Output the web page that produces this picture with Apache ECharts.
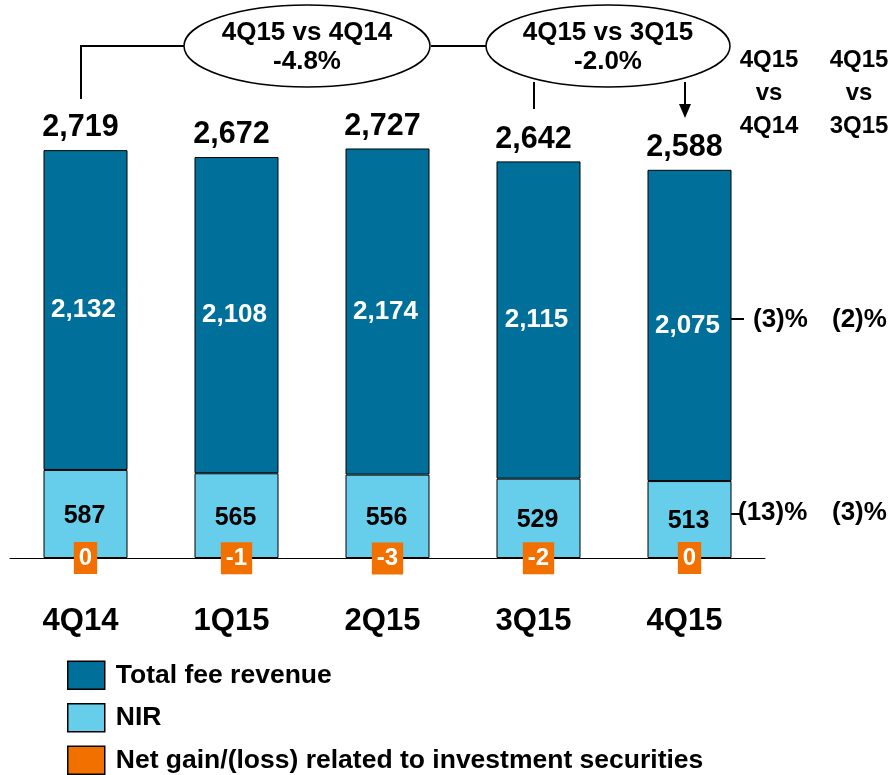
<!DOCTYPE html>
<html>
<head>
<meta charset="utf-8">
<script src="https://cdn.jsdelivr.net/npm/echarts@6/dist/echarts.min.js"></script>
<style>
  html, body { margin: 0; padding: 0; background: #fff; }
  #chart { width: 888px; height: 775px; }
</style>
</head>
<body>
<div id="chart"></div>
<script>
// quarters and values (in $M)
const quarters = ['4Q14', '1Q15', '2Q15', '3Q15', '4Q15'];
const nir = [587, 565, 556, 529, 513];
const feeRevenue = [2132, 2108, 2174, 2115, 2075];
const netGain = [0, -1, -3, -2, 0];
const totals = [2719, 2672, 2727, 2642, 2588];

// growth table on the right
const colHeads = ['4Q15\nvs\n4Q14', '4Q15\nvs\n3Q15'];
const feeGrowth = ['(3)%', '(2)%'];
const nirGrowth = ['(13)%', '(3)%'];
const bubbles = [['4Q15 vs 4Q14', '-4.8%'], ['4Q15 vs 3Q15', '-2.0%']];

const FONT = '"Liberation Sans", Arial, sans-serif';
const DARK = '#00709A';
const LIGHT = '#66CDEA';
const ORANGE = '#F27000';

const chart = echarts.init(document.getElementById('chart'));

const txt = (x, y, text, size, align, lh) => ({
  type: 'text',
  x: x, y: y,
  style: {
    text: text,
    font: 'bold ' + size + 'px ' + FONT,
    fill: '#000',
    align: align || 'center',
    verticalAlign: 'middle',
    lineHeight: lh || size
  }
});

const lineSeg = (pts) => ({
  type: 'polyline',
  shape: { points: pts },
  style: { stroke: '#000', lineWidth: 2, fill: null }
});

const option = {
  animation: false,
  grid: { left: 10, right: 123, top: 108, bottom: 217 },
  xAxis: {
    type: 'category',
    data: quarters,
    axisLine: { lineStyle: { color: '#000', width: 1 } },
    axisTick: { show: false },
    axisLabel: {
      margin: 48,
      color: '#000',
      fontSize: 31,
      fontWeight: 'bold',
      fontFamily: FONT,
      padding: [0, 10, 0, 0]
    }
  },
  yAxis: { type: 'value', min: 0, max: 3000, show: false, splitLine: { show: false } },
  legend: {
    orient: 'vertical',
    left: 67,
    bottom: 0,
    padding: 0,
    itemWidth: 37,
    itemHeight: 28,
    itemGap: 13,
    selectedMode: false,
    textStyle: { color: '#000', fontSize: 26.5, lineHeight: 28, fontWeight: 'bold', fontFamily: FONT, padding: [0, 0, 0, 6] },
    data: [
      { name: 'Total fee revenue', icon: 'rect', itemStyle: { color: DARK, borderColor: '#000', borderWidth: 1.5, opacity: 1 } },
      { name: 'NIR', icon: 'rect', itemStyle: { color: LIGHT, borderColor: '#000', borderWidth: 1.5, opacity: 1 } },
      { name: 'Net gain/(loss) related to investment securities', icon: 'rect', itemStyle: { color: ORANGE, borderColor: '#000', borderWidth: 1.5, opacity: 1 } }
    ]
  },
  series: [
    {
      name: 'NIR',
      type: 'bar',
      stack: 'rev',
      barWidth: 84,
      data: nir,
      itemStyle: { color: LIGHT, borderColor: '#000', borderWidth: 1 },
      label: {
        show: true,
        position: 'inside',
        offset: [-1, 2],
        color: '#000',
        fontSize: 25,
        fontWeight: 'bold',
        fontFamily: FONT
      }
    },
    {
      name: 'Total fee revenue',
      type: 'bar',
      stack: 'rev',
      barWidth: 84,
      data: feeRevenue,
      itemStyle: { color: DARK, borderColor: '#000', borderWidth: 1 },
      label: {
        show: true,
        position: 'inside',
        offset: [-2, 0],
        color: '#fff',
        fontSize: 26,
        fontWeight: 'bold',
        fontFamily: FONT,
        formatter: (p) => p.value.toLocaleString('en-US')
      }
    },
    {
      name: 'Total',
      type: 'scatter',
      symbolSize: 0,
      clip: false,
      data: totals,
      itemStyle: { opacity: 1 },
      label: {
        show: true,
        position: 'top',
        distance: 7,
        offset: [-5, 0],
        color: '#000',
        fontSize: 30.5,
        fontWeight: 'bold',
        fontFamily: FONT,
        formatter: (p) => p.value.toLocaleString('en-US')
      },
      z: 5
    },
    {
      name: 'Net gain/(loss) related to investment securities',
      type: 'scatter',
      symbolSize: 0,
      clip: false,
      data: netGain,
      itemStyle: { color: ORANGE, opacity: 1 },
      label: {
        show: true,
        position: 'inside',
        color: '#fff',
        backgroundColor: ORANGE,
        padding: [4, 5, 4, 5],
        lineHeight: 24,
        fontSize: 24,
        fontWeight: 'bold',
        fontFamily: FONT
      },
      z: 6
    }
  ],
  graphic: [
    // connectors and bubbles
    lineSeg([[81, 99], [81, 46], [184, 46]]),
    lineSeg([[431, 46], [486, 46]]),
    lineSeg([[534, 82], [534, 109]]),
    lineSeg([[685, 82], [685, 106]]),
    { type: 'polygon', shape: { points: [[679, 104], [691, 104], [685, 118]] }, style: { fill: '#000' } },
    { type: 'ellipse', shape: { cx: 307, cy: 46, rx: 123, ry: 41 }, style: { fill: '#fff', stroke: '#000', lineWidth: 1.5 } },
    { type: 'ellipse', shape: { cx: 608, cy: 46, rx: 122, ry: 41 }, style: { fill: '#fff', stroke: '#000', lineWidth: 1.5 } },
    txt(307, 47, bubbles[0].join('\n'), 26, 'center', 29),
    txt(608, 47, bubbles[1].join('\n'), 26, 'center', 29),
    // growth table
    txt(769, 93, colHeads[0], 24, 'center', 33),
    txt(859, 93, colHeads[1], 24, 'center', 33),
    lineSeg([[726, 319], [744, 319]]),
    lineSeg([[726, 514], [742, 514]]),
    txt(753, 320, feeGrowth[0], 26, 'left'),
    txt(832, 320, feeGrowth[1], 26, 'left'),
    txt(738, 513, nirGrowth[0], 26, 'left'),
    txt(832, 513, nirGrowth[1], 26, 'left')
  ]
};

chart.setOption(option);
</script>
</body>
</html>
